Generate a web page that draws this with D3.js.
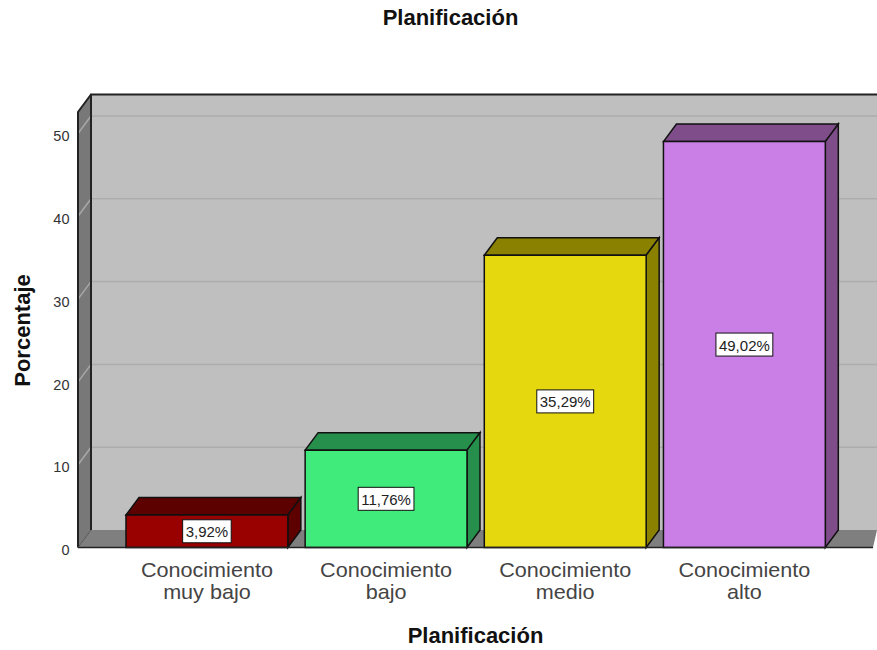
<!DOCTYPE html>
<html><head><meta charset="utf-8">
<script src="https://cdnjs.cloudflare.com/ajax/libs/d3/7.8.5/d3.min.js"></script>
<style>html,body{margin:0;padding:0;background:#fff}svg{display:block}text{font-family:"Liberation Sans",Arial,sans-serif}</style>
</head><body><svg id="c" width="877" height="650"></svg>
<script>
const categories=[["Conocimiento","muy bajo"],["Conocimiento","bajo"],["Conocimiento","medio"],["Conocimiento","alto"]];
const values=[3.92,11.76,35.29,49.02];
const valueLabels=["3,92%","11,76%","35,29%","49,02%"];
const frontColors=["#990000","#40EB7C","#E6D80F","#CA7FE6"];
const topColors=["#5C0000","#268F4B","#8A8100","#7E4D8A"];
const yTicks=[0,10,20,30,40,50];
const titleText="Planificación",xTitle="Planificación",yTitle="Porcentaje";

const svg=d3.select("#c");
const dx=13,dy=-17.5;
const y=d3.scaleLinear().domain([0,50]).range([547.5,133.5]);
const yMax=y.invert(112);
const x=d3.scaleBand().domain(d3.range(4)).range([108.7,842.6]).paddingInner(0.0965).paddingOuter(0.0965);
const left=78,right=877,y0=y(0),yT=y(yMax);
const line=d3.line();
const poly=(pts,fill,stroke,sw)=>svg.append("path").attr("d",line(pts)+"Z").attr("fill",fill).attr("stroke",stroke||"none").attr("stroke-width",sw||0);

// walls and floor
poly([[left+dx,y0+dy],[right+20,y0+dy],[right+20,yT+dy],[left+dx,yT+dy]],"#BFBFBF");
poly([[left,y0],[left+dx,y0+dy],[left+dx,yT+dy],[left,yT]],"#787878");
poly([[left,y0],[left+dx,y0+dy],[right,y0+dy],[right-4,y0]],"#7F7F7F");

// gridlines
yTicks.slice(1).forEach(t=>{
  svg.append("line").attr("x1",left+dx).attr("x2",right).attr("y1",y(t)+dy).attr("y2",y(t)+dy).attr("stroke","#ADADAD").attr("stroke-width",1.5);
});
yTicks.slice(1).forEach(t=>{
  svg.append("line").attr("x1",left).attr("x2",left+dx).attr("y1",y(t)).attr("y2",y(t)+dy).attr("stroke","#A8A8A8").attr("stroke-width",1.5);
});
// wall edges
svg.append("path").attr("d",line([[left+dx,y0+dy],[left+dx,yT+dy],[right,yT+dy]])).attr("fill","none").attr("stroke","#222").attr("stroke-width",2);
svg.append("path").attr("d",line([[left,y0],[left,yT],[left+dx,yT+dy]])).attr("fill","none").attr("stroke","#222").attr("stroke-width",2);
svg.append("path").attr("d",line([[left,y0],[left+dx,y0+dy]])).attr("fill","none").attr("stroke","#555").attr("stroke-width",1);

// y axis (labels only; the wall edge is the axis line)
const gy=svg.append("g").attr("transform",`translate(${left},0)`).call(d3.axisLeft(y).tickValues(yTicks).tickSize(0).tickPadding(8.5).tickFormat(d3.format("d")));
gy.select(".domain").remove();
gy.selectAll("text").attr("font-size",14.5).attr("fill","#333").attr("dy","0.5em").style("font-family",'"Liberation Sans",Arial,sans-serif');

// bars
values.forEach((v,i)=>{
  const a=x(i),b=a+x.bandwidth(),t=y(v);
  poly([[a,t],[a+dx,t+dy],[b+dx,t+dy],[b,t]],topColors[i],"#111",1.5);
  poly([[b,t],[b+dx,t+dy],[b+dx,y0+dy],[b,y0]],topColors[i],"#111",1.5);
  poly([[a,t],[b,t],[b,y0],[a,y0]],frontColors[i],"#111",1.5);
});
// baseline
svg.append("line").attr("x1",left).attr("x2",right-4).attr("y1",y0).attr("y2",y0).attr("stroke","#222").attr("stroke-width",1.5);

// value labels
values.forEach((v,i)=>{
  const cx=x(i)+x.bandwidth()/2, cy=(y(v)+y0)/2;
  const g=svg.append("g");
  const tx=g.append("text").attr("x",cx).attr("y",cy+0.5).attr("text-anchor","middle").attr("dominant-baseline","central").attr("font-size",15).attr("fill","#222").text(valueLabels[i]);
  const w=tx.node().getComputedTextLength()+6;
  g.insert("rect","text").attr("x",cx-w/2).attr("y",cy-11.5).attr("width",w).attr("height",23).attr("fill","#fff").attr("stroke","#111").attr("stroke-width",1);
});

// category labels: one wrapped text per category, stretched horizontally like the source
categories.forEach((c,i)=>{
  const cx=x(i)+x.bandwidth()/2;
  const t=svg.append("text").attr("transform",`translate(${cx},577) scale(1.08,1)`).attr("text-anchor","middle").attr("font-size",20).attr("fill","#444");
  c.forEach((s,k)=>t.append("tspan").attr("x",0).attr("dy",k?22.5:0).text(s));
});

svg.append("text").attr("x",450.5).attr("y",25).attr("text-anchor","middle").attr("font-size",22).attr("font-weight","bold").attr("fill","#111").text(titleText);
svg.append("text").attr("x",475.5).attr("y",643).attr("text-anchor","middle").attr("font-size",22).attr("font-weight","bold").attr("fill","#111").text(xTitle);
svg.append("text").attr("transform","translate(30,330.5) rotate(-90)").attr("text-anchor","middle").attr("font-size",22).attr("font-weight","bold").attr("fill","#111").text(yTitle);
</script></body></html>
